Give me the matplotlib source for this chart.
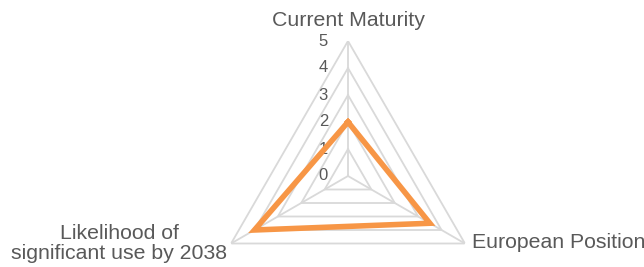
import numpy as np
import matplotlib.pyplot as plt

categories = ["Current Maturity", "European Position",
              "Likelihood of\nsignificant use by 2038"]
values = [2, 3.5, 4]
ring_levels = [1, 2, 3, 4, 5]
tick_labels = ["0", "1", "2", "3", "4", "5"]

plt.rcParams["font.family"] = ["Liberation Sans", "DejaVu Sans"]

fig = plt.figure(figsize=(6.44, 2.67), dpi=100)
W, H = 644, 267
cx, cy, rad = 348, 176, 135
ax = fig.add_axes([(cx - rad) / W, (H - cy - rad) / H, 2 * rad / W, 2 * rad / H],
                  projection="polar")
ax.set_theta_offset(np.pi / 2)
ax.set_theta_direction(-1)
ax.set_ylim(0, 5)
ax.set_xticks([])
ax.set_yticks([])
ax.grid(False)
ax.spines["polar"].set_visible(False)
ax.patch.set_alpha(0)

theta = np.linspace(0, 2 * np.pi, len(categories), endpoint=False)
tc = np.append(theta, theta[0])

grid_col = "#D9D9D9"
for lv in ring_levels:
    ax.plot(tc, [lv] * len(tc), color=grid_col, lw=1.3, zorder=1)
for t in theta:
    ax.plot([t, t], [0, 5], color=grid_col, lw=1.3, zorder=1)

vc = values + values[:1]
ax.plot(tc, vc, color="#F79646", lw=4, solid_joinstyle="miter", zorder=3)

txt = "#595959"
for i, lab in enumerate(tick_labels):
    ax.annotate(lab, xy=(0, i), xytext=(-20, 0), textcoords="offset pixels",
                ha="right", va="center", fontsize=12, color=txt, zorder=2)

offsets = [((0, 21), "center"),
           ((7, 1), "left"),
           ((-4, 0), "right")]
for t, lab, (off, ha) in zip(theta, categories, offsets):
    ax.annotate(lab, xy=(t, 5), xytext=off, textcoords="offset pixels",
                ha=ha, va="center", multialignment="center", linespacing=1.05,
                fontsize=15.3, color=txt, annotation_clip=False)

fig.savefig("out.png", dpi=100)
